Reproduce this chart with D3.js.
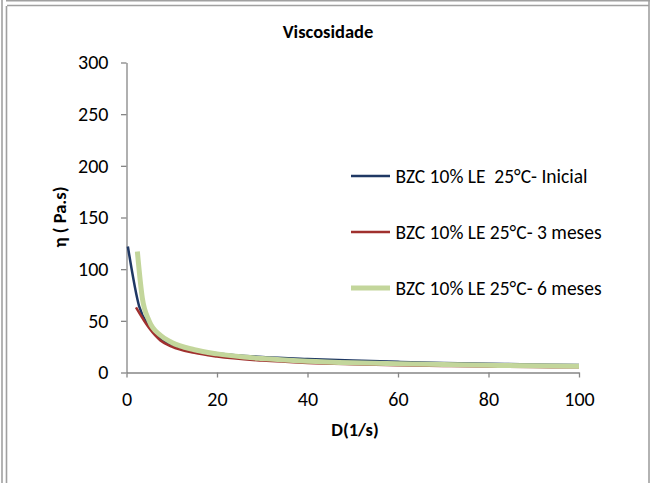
<!DOCTYPE html>
<html lang="pt">
<head>
    <meta charset="UTF-8">
    <title>Viscosidade</title>
    <script src="https://d3js.org/d3.v7.min.js"></script>
    <style>
        body {
            margin: 0;
            overflow: hidden;
            background: #fff;
        }
        text {
            font-family: Carlito, Lato, "Open Sans", sans-serif;
            fill: #000;
        }
        .axis path, .axis line {
            stroke: #868686;
            stroke-width: 1.3px;
        }
        .frame {
            stroke: #a0a0a0;
            stroke-width: 1.6px;
            fill: none;
        }
    </style>
</head>
<body>
    <script>
        const width = 652;
        const height = 483;

        // shear rate D (1/s) and viscosity (Pa.s)
        const dInicial = [0.3, 2.8, 5, 7.5, 10, 15, 20, 30, 40, 50, 60, 70, 80, 90, 100];
        const etaInicial = [122, 64, 45, 33, 27, 21, 18.5, 15, 13, 11.5, 10.3, 9.3, 8.5, 7.8, 7.2];

        const d3Meses = [2.1, 5, 7.5, 10, 15, 20, 30, 40, 50, 60, 70, 80, 90, 100];
        const eta3Meses = [63, 43, 31, 25, 19, 15.5, 11.5, 9.3, 8, 7, 6.3, 5.8, 5.3, 5];

        const d6Meses = [2.4, 3.5, 5, 7.5, 10, 15, 20, 30, 40, 50, 60, 70, 80, 90, 100];
        const eta6Meses = [117, 72, 50, 36, 29, 22, 18, 13.5, 11, 9.5, 8.5, 7.7, 7, 6.5, 6];

        const seriesNames = [
            "BZC 10% LE  25°C- Inicial",
            "BZC 10% LE 25°C- 3 meses",
            "BZC 10% LE 25°C- 6 meses"
        ];
        const seriesColors = ["#1f3864", "#a0302e", "#c3d69b"];
        const seriesWidths = [2.5, 2.5, 5];

        const xTicks = [0, 20, 40, 60, 80, 100];
        const yTicks = [0, 50, 100, 150, 200, 250, 300];

        const series = [
            { name: seriesNames[0], d: dInicial, eta: etaInicial },
            { name: seriesNames[1], d: d3Meses, eta: eta3Meses },
            { name: seriesNames[2], d: d6Meses, eta: eta6Meses }
        ];

        const svg = d3.select("body").append("svg")
            .attr("width", width)
            .attr("height", height);

        // double frame like the copied Excel chart
        svg.append("line").attr("class", "frame").attr("x1", 2).attr("y1", 0).attr("x2", 2).attr("y2", height);
        svg.append("line").attr("class", "frame").attr("x1", 6.5).attr("y1", 6).attr("x2", 6.5).attr("y2", height);
        svg.append("line").attr("class", "frame").attr("x1", 6).attr("y1", 0.8).attr("x2", 650).attr("y2", 0.8);
        svg.append("line").attr("class", "frame").attr("x1", 7).attr("y1", 5.5).attr("x2", 649).attr("y2", 5.5);
        svg.append("line").attr("class", "frame").attr("x1", 649).attr("y1", 0).attr("x2", 649).attr("y2", height);

        const x = d3.scaleLinear().domain([0, 100]).range([126.5, 579]);
        const y = d3.scaleLinear().domain([0, 300]).range([372.5, 62.5]);

        const xAxis = svg.append("g")
            .attr("class", "axis")
            .attr("transform", `translate(0,${y(0)})`)
            .call(d3.axisBottom(x).tickValues(xTicks).tickSize(5).tickSizeOuter(0));
        xAxis.selectAll("text")
            .attr("y", 33)
            .attr("dy", 0)
            .style("font-size", "20px");

        const yAxis = svg.append("g")
            .attr("class", "axis")
            .attr("transform", `translate(${x(0)},0)`)
            .call(d3.axisLeft(y).tickValues(yTicks).tickSize(5.5).tickPadding(12.5).tickSizeOuter(0));
        yAxis.selectAll("text")
            .style("font-size", "20px");

        const line = d3.line()
            .x(v => x(v[0]))
            .y(v => y(v[1]))
            .curve(d3.curveMonotoneX);

        series.forEach((s, i) => {
            svg.append("path")
                .datum(s.d.map((dv, j) => [dv, s.eta[j]]))
                .attr("fill", "none")
                .attr("stroke", seriesColors[i])
                .attr("stroke-width", seriesWidths[i])
                .attr("stroke-linejoin", "round")
                .attr("d", line);
        });

        // title and axis labels
        svg.append("text")
            .attr("x", 328)
            .attr("y", 38)
            .attr("text-anchor", "middle")
            .style("font-size", "18.5px")
            .style("font-weight", "bold")
            .text("Viscosidade");

        svg.append("text")
            .attr("x", 355)
            .attr("y", 436)
            .attr("text-anchor", "middle")
            .style("font-size", "18.5px")
            .style("font-weight", "bold")
            .text("D(1/s)");

        svg.append("text")
            .attr("transform", "translate(66,217) rotate(-90)")
            .attr("text-anchor", "middle")
            .style("font-size", "18.5px")
            .style("font-weight", "bold")
            .text("η ( Pa.s)");

        // legend
        const legend = svg.append("g")
            .selectAll("g")
            .data(series)
            .join("g")
            .attr("transform", (d, i) => `translate(351,${176 + i * 56})`);

        legend.append("line")
            .attr("x1", 0)
            .attr("x2", 39)
            .attr("stroke", (d, i) => seriesColors[i])
            .attr("stroke-width", (d, i) => seriesWidths[i]);

        legend.append("text")
            .attr("x", 44.5)
            .attr("y", 7)
            .style("font-size", "19.5px")
            .style("white-space", "pre")
            .text(d => d.name);
    </script>
</body>
</html>
